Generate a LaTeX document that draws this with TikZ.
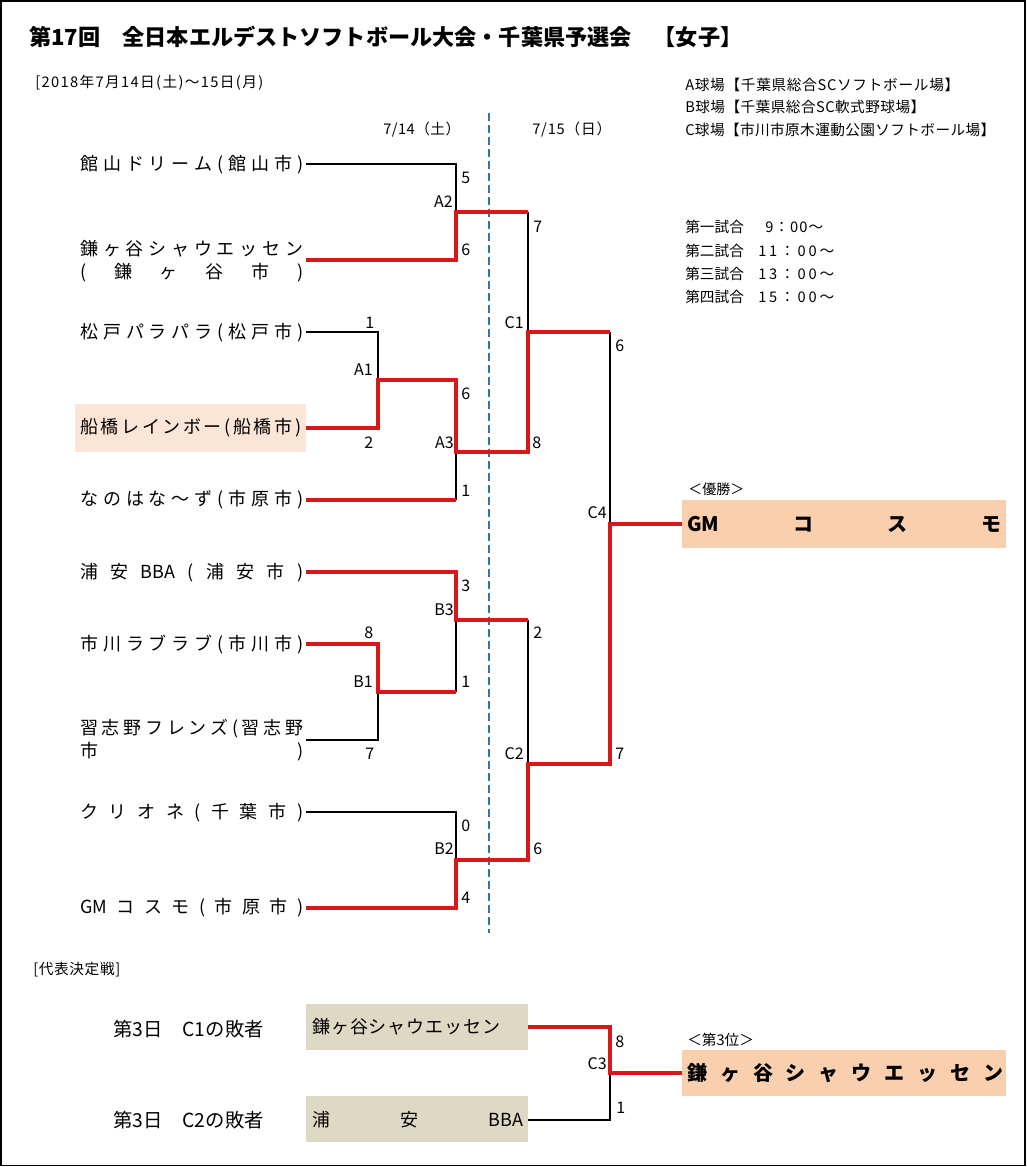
\documentclass[tikz,border=0pt]{standalone}
\usepackage{fontspec}
\setmainfont{Noto Sans CJK JP}
\newdimen\pxu \pxu=0.75pt
\ExplSyntaxOn
\bool_new:N \l_spr_first_bool
\NewDocumentCommand \spreadtext { m m }
  {
    \makebox[#1][s]
      {
        \bool_set_true:N \l_spr_first_bool
        \tl_map_inline:nn {#2}
          {
            \bool_if:NTF \l_spr_first_bool
              { \bool_set_false:N \l_spr_first_bool }
              { \hfill }
            ##1
          }
      }
  }
\ExplSyntaxOff
\definecolor{wred}{RGB}{214,24,28}
\definecolor{dblue}{RGB}{46,117,182}
\definecolor{peachL}{RGB}{251,229,214}
\definecolor{peachD}{RGB}{249,207,174}
\definecolor{boxtan}{RGB}{221,217,196}
\begin{document}
\begin{tikzpicture}[x=0.75pt,y=-0.75pt,
  blk/.style={line width=0.8pt, black},
  win/.style={line width=2.4pt, wred, line join=miter},
  tname/.style={anchor=west, inner sep=0pt, font=\fontsize{13.5}{16}\selectfont},
  sc/.style={anchor=west, inner sep=0pt, font=\fontsize{12}{14}\selectfont},
  mt/.style={anchor=east, inner sep=0pt, font=\fontsize{12}{14}\selectfont},
  small/.style={anchor=west, inner sep=0pt, font=\fontsize{11}{13}\selectfont},
  bigname/.style={anchor=west, inner sep=0pt, font=\fontsize{15}{18}\selectfont\bfseries},
]
\useasboundingbox (0,0) rectangle (1026,1167);
\draw[line width=1.3pt] (1,1) rectangle (1025,1165.5);

% boxes
\fill[peachL] (75,404) rectangle (306,452);
\fill[peachD] (682,500) rectangle (1006,548);
\fill[peachD] (682,1050) rectangle (1006,1096);
\fill[boxtan] (306,1004) rectangle (528,1050);
\fill[boxtan] (306,1096) rectangle (528,1142);

% headers
\node[anchor=west,inner sep=0pt,font=\fontsize{16.6}{20}\selectfont\bfseries] (title) at (29,37) {第17回　全日本エルデストソフトボール大会・千葉県予選会　【女子】};
\node[small] (date) at (35,83) {\spreadtext{228\pxu}{[2018年7月14日(土)～15日(月)}};
\node[small] (d1) at (383,130) {\spreadtext{77\pxu}{7/14（土）}};
\node[small] (d2) at (532,130) {\spreadtext{79\pxu}{7/15（日）}};
\node[small] (fa) at (685,85) {\spreadtext{274\pxu}{A球場【千葉県総合SCソフトボール場】}};
\node[small] (fb) at (685,107) {\spreadtext{240\pxu}{B球場【千葉県総合SC軟式野球場】}};
\node[small] (fc) at (685,130) {\spreadtext{310\pxu}{C球場【市川市原木運動公園ソフトボール場】}};
\node[small] (s1) at (685,227) {第一試合};
\node[small] (s2) at (685,251) {第二試合};
\node[small] (s3) at (685,274) {第三試合};
\node[small] (s4) at (685,297) {第四試合};
\node[small] (t1) at (765,227) {\spreadtext{58\pxu}{9：00～}};
\node[small] (t2) at (758,251) {\spreadtext{76\pxu}{11：00～}};
\node[small] (t3) at (758,274) {\spreadtext{76\pxu}{13：00～}};
\node[small] (t4) at (758,297) {\spreadtext{76\pxu}{15：00～}};

% dashed day separator
\coordinate (dtop) at (489,113);
\coordinate (dbot) at (489,933);
\draw[dblue, line width=1.5pt, dash pattern=on 6pt off 3pt] (dtop) -- (dbot);

% team names
\node[tname] (n1) at (80,165) {\spreadtext{223\pxu}{館山ドリーム(館山市)}};
\node[tname] (n2a) at (80,249) {\spreadtext{223\pxu}{鎌ヶ谷シャウエッセン}};
\node[tname] (n2b) at (80,273) {\spreadtext{223\pxu}{(鎌ヶ谷市)}};
\node[tname] (n3) at (80,333) {\spreadtext{223\pxu}{松戸パラパラ(松戸市)}};
\node[tname] (n4) at (80,428) {\spreadtext{221\pxu}{船橋レインボー(船橋市)}};
\node[tname] (n5) at (80,500) {\spreadtext{223\pxu}{なのはな～ず(市原市)}};
\node[tname] (n6) at (80,573) {\spreadtext{223\pxu}{浦安{BBA}(浦安市)}};
\node[tname] (n7) at (80,645) {\spreadtext{223\pxu}{市川ラブラブ(市川市)}};
\node[tname] (n8a) at (80,729) {\spreadtext{223\pxu}{習志野フレンズ(習志野}};
\node[tname] (n8b) at (80,752) {\spreadtext{223\pxu}{市)}};
\node[tname] (n9) at (80,813) {\spreadtext{223\pxu}{クリオネ(千葉市)}};
\node[tname] (n10) at (80,908) {\spreadtext{223\pxu}{{GM}コスモ(市原市)}};

% bracket coordinates
\coordinate (e1) at (306,164);
\coordinate (e2) at (306,260);
\coordinate (e3) at (306,332);
\coordinate (e4) at (306,428);
\coordinate (e5) at (306,500);
\coordinate (e6) at (306,572);
\coordinate (e7) at (306,644);
\coordinate (e8) at (306,740);
\coordinate (e9) at (306,812);
\coordinate (e10) at (306,908);
\coordinate (A2) at (456,212);
\coordinate (A1) at (378,380);
\coordinate (A3) at (456,452);
\coordinate (B3) at (456,620);
\coordinate (B1) at (378,692);
\coordinate (B2) at (456,860);
\coordinate (C1) at (528,332);
\coordinate (C2) at (528,764);
\coordinate (C4) at (610,524);
\coordinate (W) at (682,524);
\coordinate (f1) at (528,1027);
\coordinate (f2) at (528,1120);
\coordinate (C3) at (610,1073);
\coordinate (W3) at (682,1073);

% losing (black) branches
\draw[blk] (e1) -| (A2);
\draw[blk] (e3) -| (A1);
\draw[blk] (A3) -- (456,500);
\draw[blk] (528,212) -- (C1);
\draw[blk] (610,332) -- (C4);
\draw[blk] (B3) -- (B1 -| B3);
\draw[blk] (e8) -| (B1);
\draw[blk] (e9) -| (B2);
\draw[blk] (528,620) -- (C2);
\draw[blk] (f2) -| (C3);

% winning (red) branches
\draw[win] (e2) -| (A2) -- (528,212);
\draw[win] (e4) -| (A1) -| (A3) -- (528,452) |- (C1) -- (610,332);
\draw[win] (e5) -- (456,500);
\draw[win] (e6) -| (B3) -- (528,620);
\draw[win] (e7) -| (B1) -- (456,692);
\draw[win] (e10) -| (B2) -| (C2) -| (C4) -- (W);
\draw[win] (f1) -| (C3) -- (W3);

% score and match labels
\node[sc] at (461,178) {5};
\node[mt] at (453,202) {A2};
\node[sc] at (461,250) {6};
\node[sc] at (365,323) {1};
\node[mt] at (373,370) {A1};
\node[sc] at (364,443) {2};
\node[sc] at (461,394) {6};
\node[mt] at (454,443) {A3};
\node[sc] at (461,491) {1};
\node[sc] at (533,227) {7};
\node[mt] at (524,323) {C1};
\node[sc] at (532,443) {8};
\node[sc] at (615,346) {6};
\node[mt] at (607,513) {C4};
\node[sc] at (615,754) {7};
\node[sc] at (461,586) {3};
\node[mt] at (454,610) {B3};
\node[sc] at (461,682) {1};
\node[sc] at (364,633) {8};
\node[mt] at (373,682) {B1};
\node[sc] at (365,754) {7};
\node[sc] at (461,826) {0};
\node[mt] at (454,849) {B2};
\node[sc] at (461,898) {4};
\node[sc] at (533,633) {2};
\node[mt] at (524,754) {C2};
\node[sc] at (533,849) {6};
\node[sc] at (615,1042) {8};
\node[mt] at (607,1064) {C3};
\node[sc] at (616,1108) {1};

% champion
\node[anchor=west,inner sep=0pt,font=\fontsize{10.5}{12}\selectfont] (yl) at (688,489) {＜優勝＞};
\node[bigname] (champ) at (687,524) {\spreadtext{314\pxu}{{GM}コスモ}};

% representative decision match
\node[anchor=west,inner sep=0pt,font=\fontsize{11}{13}\selectfont] (rep) at (33,970) {\spreadtext{87\pxu}{[代表決定戦]}};
\node[anchor=west,inner sep=0pt,font=\fontsize{14.5}{17}\selectfont] (l1) at (113,1029) {第3日\hspace{20\pxu}C1の敗者};
\node[anchor=west,inner sep=0pt,font=\fontsize{14.5}{17}\selectfont] (l2) at (113,1120) {第3日\hspace{20\pxu}C2の敗者};
\node[anchor=west,inner sep=0pt,font=\fontsize{13.5}{16}\selectfont] (b1) at (312,1027) {\spreadtext{188\pxu}{鎌ヶ谷シャウエッセン}};
\node[anchor=west,inner sep=0pt,font=\fontsize{13.5}{16}\selectfont] (b2) at (312,1120) {\spreadtext{211\pxu}{浦安{BBA}}};
\node[anchor=west,inner sep=0pt,font=\fontsize{11}{13}\selectfont] (tl) at (687,1040) {＜第3位＞};
\node[bigname] (third) at (687,1073) {\spreadtext{316\pxu}{鎌ヶ谷シャウエッセン}};
\end{tikzpicture}
\end{document}
